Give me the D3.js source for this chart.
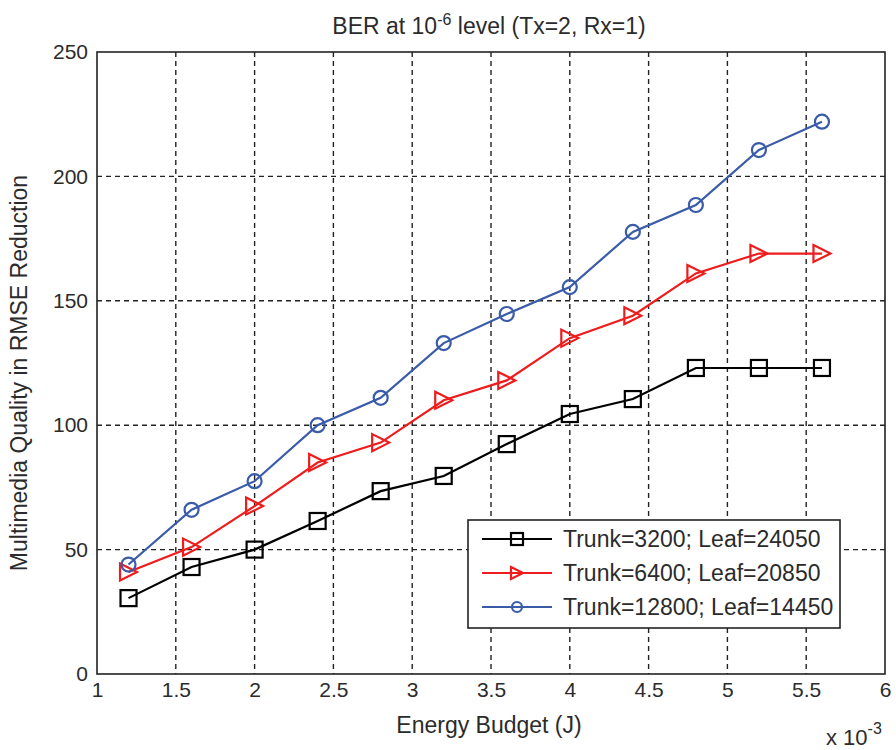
<!DOCTYPE html>
<html>
<head>
<meta charset="utf-8">
<script src="https://cdn.jsdelivr.net/npm/d3@7"></script>
<style>
  body { margin: 0; background: #fff; }
  svg text { font-family: "Liberation Sans", Arial, sans-serif; fill: #2b2b2b; }
</style>
</head>
<body>
<div id="chart"></div>
<script>
//Data
const energy = [1.2, 1.6, 2.0, 2.4, 2.8, 3.2, 3.6, 4.0, 4.4, 4.8, 5.2, 5.6];
const trunk3200 = [30.5, 43, 50, 61.5, 73.5, 79.6, 92.4, 104.5, 110.5, 123, 123, 123];
const trunk6400 = [41, 51, 67.5, 85, 93, 110, 118, 135, 144, 161, 169, 169];
const trunk12800 = [44, 66, 77.5, 100, 111, 133, 144.7, 155.5, 177.7, 188.5, 210.6, 222];
const xTicks = [1, 1.5, 2, 2.5, 3, 3.5, 4, 4.5, 5, 5.5, 6];
const yTicks = [0, 50, 100, 150, 200, 250];
const seriesNames = ['Trunk=3200; Leaf=24050', 'Trunk=6400; Leaf=20850', 'Trunk=12800; Leaf=14450'];

const series = [
  { name: seriesNames[0], values: trunk3200, color: '#000000', marker: 'square' },
  { name: seriesNames[1], values: trunk6400, color: '#ee1c1c', marker: 'triangle' },
  { name: seriesNames[2], values: trunk12800, color: '#3a5ba8', marker: 'circle' }
];

//Layout
const W = 896, H = 750;
const margin = { top: 52, right: 11, bottom: 76, left: 97 };
const innerW = W - margin.left - margin.right;
const innerH = H - margin.top - margin.bottom;

const svg = d3.select('#chart').append('svg').attr('width', W).attr('height', H);
const g = svg.append('g').attr('transform', `translate(${margin.left},${margin.top})`);

const x = d3.scaleLinear().domain([1, 6]).range([0, innerW]);
const y = d3.scaleLinear().domain([0, 250]).range([innerH, 0]);

// Grid
g.append('g').selectAll('line').data(xTicks.slice(1, -1)).join('line')
  .attr('x1', d => x(d)).attr('x2', d => x(d)).attr('y1', 0).attr('y2', innerH)
  .attr('stroke', '#222').attr('stroke-width', 1.4).attr('stroke-dasharray', '5,4');
g.append('g').selectAll('line').data(yTicks.slice(1, -1)).join('line')
  .attr('y1', d => y(d)).attr('y2', d => y(d)).attr('x1', 0).attr('x2', innerW)
  .attr('stroke', '#222').attr('stroke-width', 1.4).attr('stroke-dasharray', '5,4');

// Axes
const xAxis = g.append('g').attr('transform', `translate(0,${innerH})`)
  .call(d3.axisBottom(x).tickValues(xTicks).tickSize(0).tickPadding(8).tickFormat(d3.format('')));
const yAxis = g.append('g')
  .call(d3.axisLeft(y).tickValues(yTicks).tickSize(0).tickPadding(9));
[xAxis, yAxis].forEach(a => {
  a.select('.domain').remove();
  a.selectAll('text').attr('font-size', 21).attr('fill', '#2b2b2b')
    .style('font-family', '"Liberation Sans", Arial, sans-serif');
});

// Box
g.append('rect').attr('width', innerW).attr('height', innerH)
  .attr('fill', 'none').attr('stroke', '#222').attr('stroke-width', 1.6);

// Markers
const drawMarker = (sel, type, color, size) => {
  if (type === 'square') {
    sel.append('rect').attr('x', -size).attr('y', -size)
      .attr('width', size * 2).attr('height', size * 2);
  } else if (type === 'triangle') {
    sel.append('path').attr('d', `M${-size},${-size}L${size},0L${-size},${size}Z`);
  } else {
    sel.append('circle').attr('r', size);
  }
  sel.selectAll('*').attr('fill', 'none').attr('stroke', color).attr('stroke-width', 2.2);
};

const line = d3.line().x(d => x(d[0])).y(d => y(d[1]));
const markerSize = { square: 8, triangle: 8.5, circle: 7 };

series.forEach(s => {
  const pts = energy.map((e, i) => [e, s.values[i]]);
  g.append('path').datum(pts).attr('d', line)
    .attr('fill', 'none').attr('stroke', s.color).attr('stroke-width', 2.2);
  g.append('g').selectAll('g').data(pts).join('g')
    .attr('transform', d => `translate(${x(d[0])},${y(d[1])})`)
    .each(function () { drawMarker(d3.select(this), s.marker, s.color, markerSize[s.marker]); });
});

// Legend
const legend = g.append('g').attr('transform', `translate(${468 - margin.left},${520 - margin.top})`);
legend.append('rect').attr('width', 372).attr('height', 108)
  .attr('fill', '#fff').attr('stroke', '#222').attr('stroke-width', 1.6);
series.forEach((s, i) => {
  const ly = 19 + i * 34;
  const row = legend.append('g').attr('transform', `translate(0,${ly})`);
  row.append('line').attr('x1', 14).attr('x2', 84).attr('y1', 0).attr('y2', 0)
    .attr('stroke', s.color).attr('stroke-width', 2.2);
  const m = row.append('g').attr('transform', 'translate(49,0)');
  drawMarker(m, s.marker, s.color, s.marker === 'circle' ? 5 : 6);
  row.append('text').attr('x', 95).attr('y', 0).attr('dy', '0.35em')
    .attr('font-size', 23).text(s.name);
});

// Title
const title = svg.append('text').attr('x', margin.left + innerW / 2 - 2).attr('y', 34)
  .attr('text-anchor', 'middle').attr('font-size', 23);
title.append('tspan').text('BER at 10');
title.append('tspan').attr('dy', -9).attr('font-size', 16).text('-6');
title.append('tspan').attr('dy', 9).text(' level (Tx=2, Rx=1)');

// Axis labels
svg.append('text').attr('x', margin.left + innerW / 2 - 2).attr('y', 733)
  .attr('text-anchor', 'middle').attr('font-size', 23).text('Energy Budget (J)');
svg.append('text').attr('transform', `translate(27,${margin.top + innerH / 2 + 10}) rotate(-90)`)
  .attr('text-anchor', 'middle').attr('font-size', 23).text('Multimedia Quality in RMSE Reduction');

const exp = svg.append('text').attr('x', 826).attr('y', 745).attr('font-size', 22);
exp.append('tspan').text('x 10');
exp.append('tspan').attr('dy', -11).attr('font-size', 16).text('-3');
</script>
</body>
</html>
